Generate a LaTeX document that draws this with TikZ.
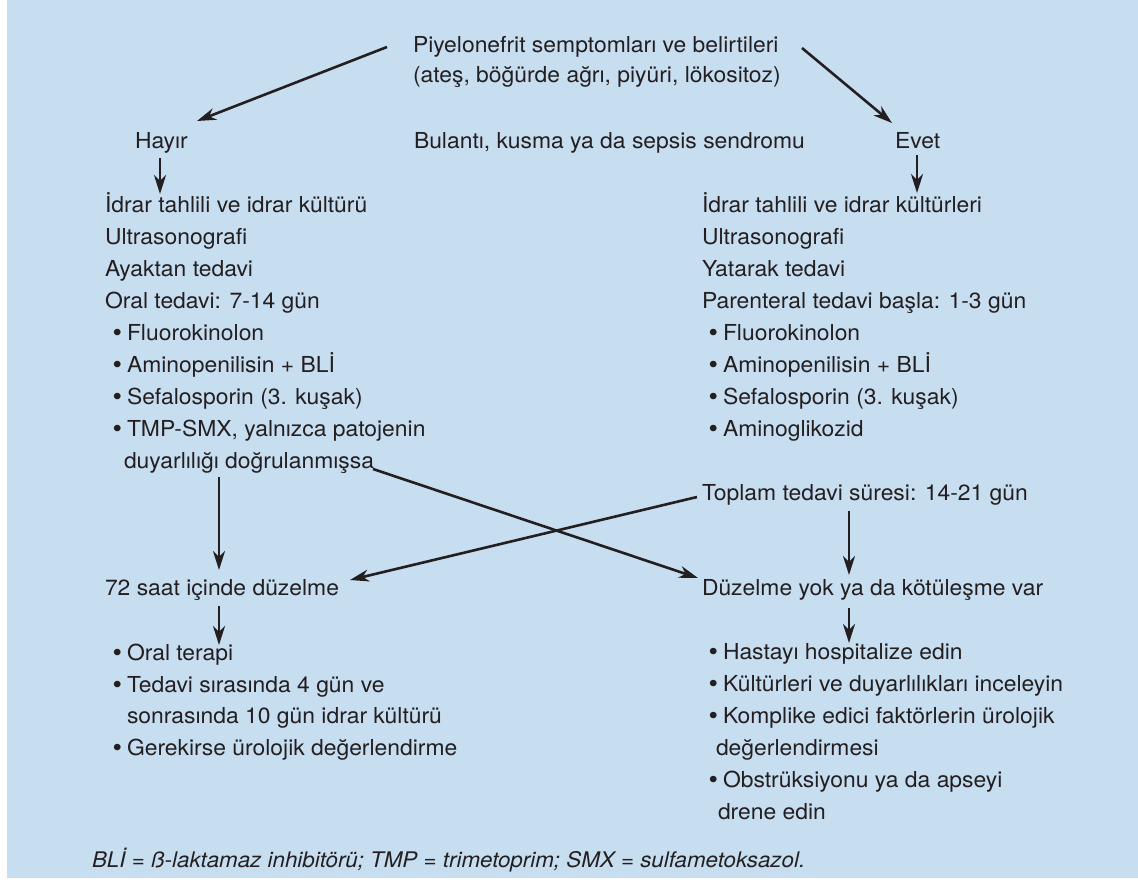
\documentclass[tikz,border=0pt]{standalone}
\usepackage{fontspec}
\setmainfont{TeX Gyre Heros}[FakeStretch=1.04]
\usetikzlibrary{arrows.meta}
\definecolor{panel}{RGB}{199,221,240}
\definecolor{ink}{RGB}{35,31,32}
% list bullet, slightly enlarged, in a box as wide as "• "
\newcommand{\blt}{\makebox[14.4pt][l]{\raisebox{-1.4pt}{\fontsize{26}{26}\selectfont •}}}
\begin{document}
\begin{tikzpicture}[x=1pt,y=1pt,
  txt/.style={anchor=base west, inner sep=0pt, outer sep=0pt, text=ink,
              font=\fontsize{22}{26}\selectfont},
  note/.style={txt, font=\fontsize{21.5}{26}\selectfont\itshape},
  arr/.style={draw=ink, line width=2.6pt,
              -{Stealth[length=19pt,width=12pt,inset=6pt]}}]

% canvas and panel
\useasboundingbox (0,0) rectangle (1138,-883);
\fill[white] (0,0) rectangle (1138,-883);
\fill[panel] (7,0) rectangle (1138,-878);

% question at the top
\node[txt] (t1) at (413,-53) {Piyelonefrit semptomları ve belirtileri};
\node[txt] (t2) at (413,-82) {(ateş, böğürde ağrı, piyüri, lökositoz)};
\node[txt] (no)  at (135,-148) {Hayır};
\node[txt] (q)   at (414,-148) {Bulantı, kusma ya da sepsis sendromu};
\node[txt] (yes) at (895,-148) {Evet};

% outpatient branch
\node[txt] (L1) at (105,-212) {İdrar tahlili ve idrar kültürü};
\node[txt] (L2) at (105,-244) {Ultrasonografi};
\node[txt] (L3) at (105,-276) {Ayaktan tedavi};
\node[txt] (L4) at (105,-308) {Oral tedavi: 7-14 gün};
\node[txt] (L5) at (112.6,-340) {\blt Fluorokinolon};
\node[txt] (L6) at (112.6,-372) {\blt Aminopenilisin + BLİ};
\node[txt] (L7) at (112.6,-404) {\blt Sefalosporin (3. kuşak)};
\node[txt] (L8) at (112.6,-436) {\blt TMP-SMX, yalnızca patojenin};
\node[txt] (L9) at (124,-468) {duyarlılığı doğrulanmışsa};

% inpatient branch
\node[txt] (R1) at (702,-212) {İdrar tahlili ve idrar kültürleri};
\node[txt] (R2) at (702,-244) {Ultrasonografi};
\node[txt] (R3) at (702,-276) {Yatarak tedavi};
\node[txt] (R4) at (702,-308) {Parenteral tedavi başla: 1-3 gün};
\node[txt] (R5) at (708.6,-340) {\blt Fluorokinolon};
\node[txt] (R6) at (708.6,-372) {\blt Aminopenilisin + BLİ};
\node[txt] (R7) at (708.6,-404) {\blt Sefalosporin (3. kuşak)};
\node[txt] (R8) at (708.6,-436) {\blt Aminoglikozid};
\node[txt] (tp) at (702,-500) {Toplam tedavi süresi: 14-21 gün};

% outcomes
\node[txt] (s) at (105,-595) {72 saat içinde düzelme};
\node[txt] (d) at (702,-595) {Düzelme yok ya da kötüleşme var};

\node[txt] (lb1) at (112.6,-660) {\blt Oral terapi};
\node[txt] (lb2) at (112.6,-692) {\blt Tedavi sırasında 4 gün ve};
\node[txt] (lb3) at (127,-723) {sonrasında 10 gün idrar kültürü};
\node[txt] (lb4) at (112.6,-755) {\blt Gerekirse ürolojik değerlendirme};

\node[txt] (rb1) at (708.6,-659) {\blt Hastayı hospitalize edin};
\node[txt] (rb2) at (708.6,-691) {\blt Kültürleri ve duyarlılıkları inceleyin};
\node[txt] (rb3) at (708.6,-723) {\blt Komplike edici faktörlerin ürolojik};
\node[txt] (rb4) at (716,-755) {değerlendirmesi};
\node[txt] (rb5) at (708.6,-787) {\blt Obstrüksiyonu ya da apseyi};
\node[txt] (rb6) at (718,-819) {drene edin};

% abbreviations
\node[note] (fn) at (92,-867) {BLİ = ß-laktamaz inhibitörü; TMP = trimetoprim; SMX = sulfametoksazol.};

% connectors
\draw[arr] ([shift={(-26,6)}]t1.base west) -- ([shift={(62,27)}]no.base west);
\draw[arr] ([shift={(389,5)}]t1.base west) -- ([shift={(-3,25)}]yes.base west);
\draw[arr] ([shift={(25,-10)}]no.base west) -- ([shift={(55,18)}]L1.base west);
\draw[arr] ([shift={(22,-7)}]yes.base west) -- ([shift={(215,19)}]R1.base west);
\draw[arr] ([shift={(95,-9)}]L9.base west) -- ([shift={(114,25)}]s.base west);
\draw[arr] ([shift={(249,-1)}]L9.base west) -- ([shift={(-4,17)}]d.base west);
\draw[arr] ([shift={(-5,3)}]tp.base west) -- ([shift={(245,15)}]s.base west);
\draw[arr] ([shift={(147,-11)}]tp.base west) -- ([shift={(147,20)}]d.base west);
\draw[arr] ([shift={(114,-11)}]s.base west) -- ([shift={(106.4,15)}]lb1.base west);
\draw[arr] ([shift={(147,-13)}]d.base west) -- ([shift={(140.4,16)}]rb1.base west);
\end{tikzpicture}
\end{document}
